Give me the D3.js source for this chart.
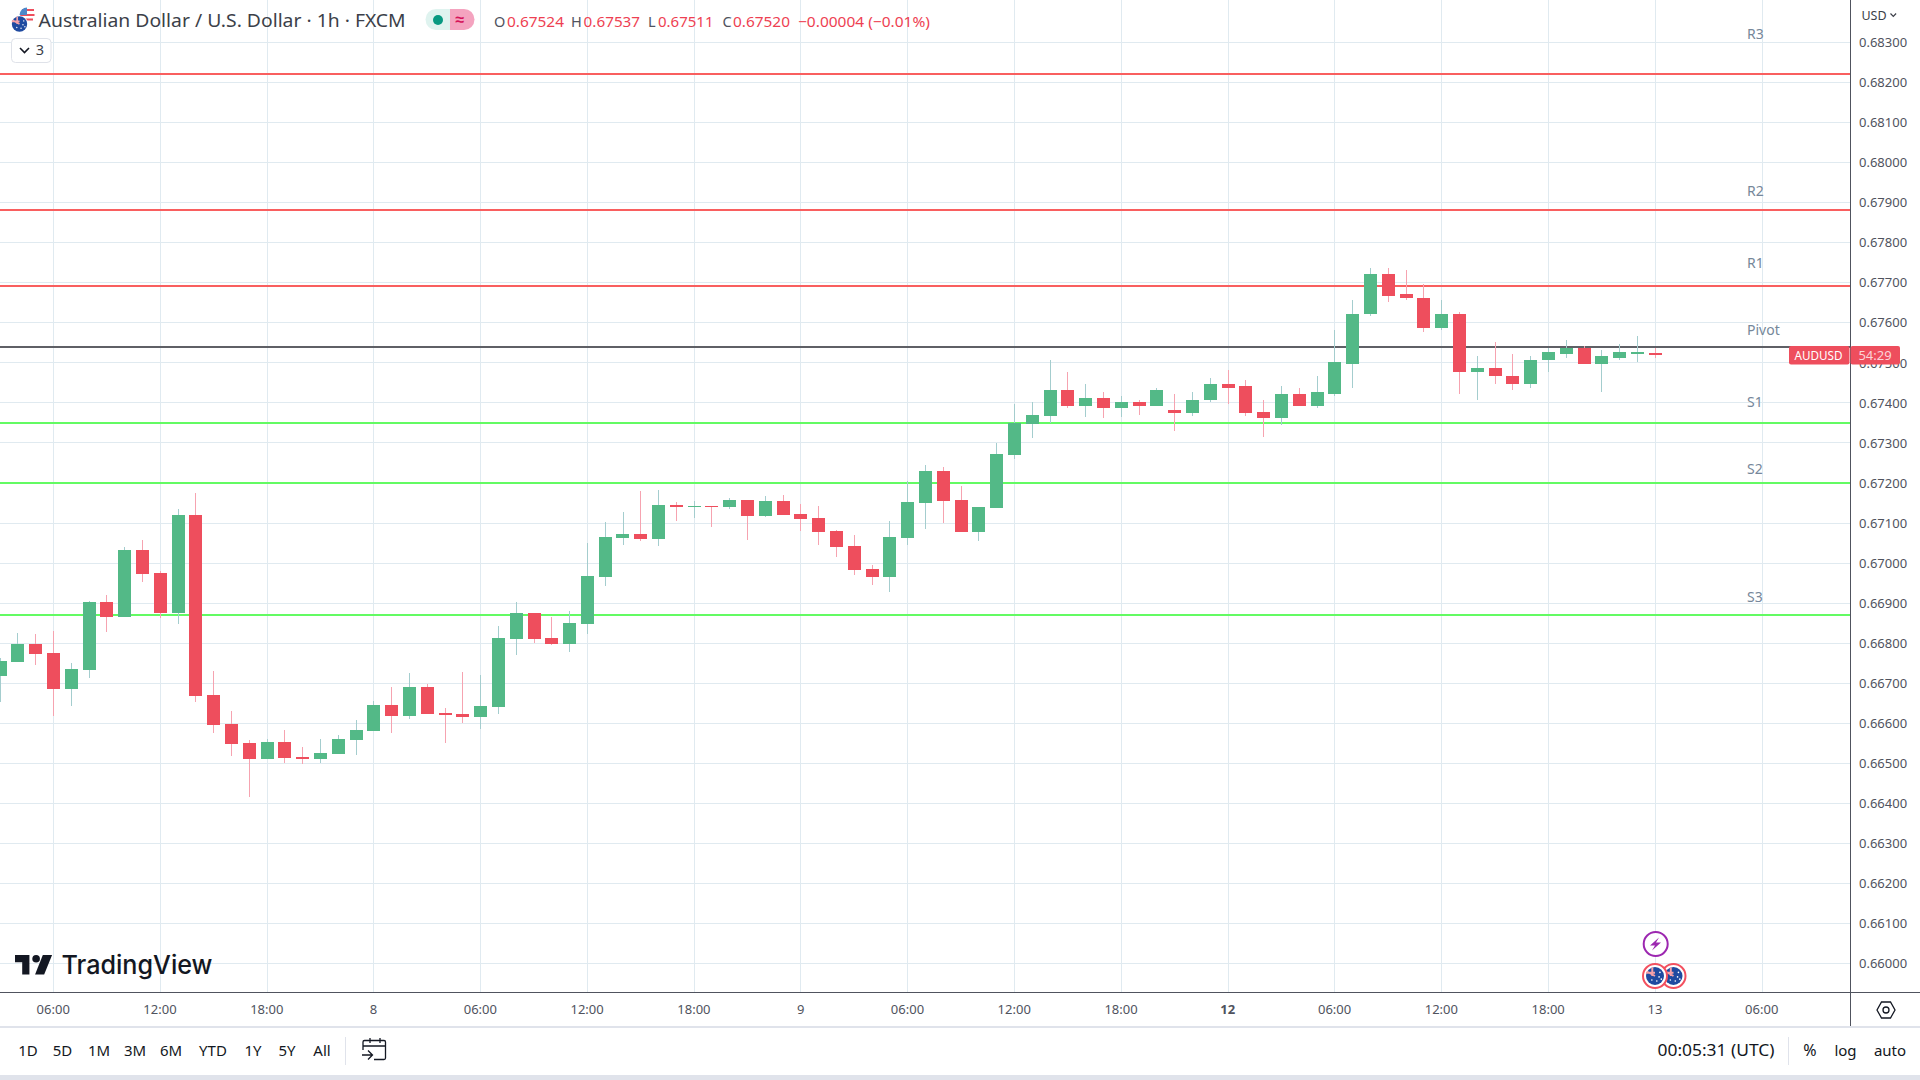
<!DOCTYPE html>
<html><head><meta charset="utf-8">
<script src="https://cdn.jsdelivr.net/npm/d3@7"></script>
<style>html,body{margin:0;padding:0;background:#fff;overflow:hidden}svg{display:block;font-family:"Noto Sans",sans-serif}</style>
</head><body><svg id="c" width="1920" height="1080"></svg>
<script>
const firstBar = -3;
const opens  = [.66718,.66753,.66798,.66776,.66686,.66733,.66903,.66866,.67033,.66976,.66876,.67121,.66671,.66598,.66551,.66511,.66553,.66516,.66511,.66523,.66558,.66581,.66646,.66618,.66691,.66626,.66623,.66616,.66641,.66811,.66876,.66813,.66798,.66848,.66966,.67063,.67073,.67061,.67146,.67141,.67143,.67141,.67158,.67118,.67156,.67123,.67113,.67081,.67043,.66986,.66966,.67063,.67151,.67231,.67158,.67078,.67138,.67271,.67348,.67368,.67431,.67393,.67413,.67386,.67401,.67393,.67381,.67376,.67406,.67446,.67441,.67378,.67363,.67421,.67391,.67423,.67498,.67621,.67721,.67671,.67663,.67586,.67621,.67478,.67488,.67468,.67448,.67506,.67523,.67538,.67498,.67513,.67523,.67524];
const highs  = [.66763,.66826,.66823,.66831,.66751,.66906,.66921,.67041,.67058,.66981,.67136,.67176,.66731,.66631,.66558,.66561,.66583,.66541,.66561,.66571,.66608,.66656,.66691,.66726,.66698,.66638,.66728,.66721,.66843,.66903,.66876,.66866,.66881,.67051,.67103,.67128,.67181,.67183,.67153,.67156,.67143,.67163,.67158,.67168,.67171,.67148,.67143,.67083,.67071,.66996,.67106,.67206,.67246,.67241,.67193,.67141,.67301,.67398,.67401,.67508,.67478,.67446,.67428,.67416,.67406,.67436,.67421,.67426,.67461,.67483,.67458,.67406,.67443,.67436,.67466,.67583,.67656,.67738,.67736,.67733,.67696,.67656,.67626,.67516,.67553,.67523,.67516,.67536,.67556,.67541,.67533,.67546,.67566,.67537];
const lows   = [.66654,.66753,.66746,.66618,.66643,.66713,.66828,.66866,.66953,.66863,.66848,.66653,.66576,.66518,.66416,.66511,.66500,.66498,.66500,.66523,.66521,.66581,.66576,.66611,.66623,.66551,.66601,.66585,.66623,.66771,.66801,.66796,.66778,.66823,.66943,.67046,.67056,.67043,.67106,.67113,.67091,.67136,.67058,.67116,.67121,.67081,.67046,.67016,.66971,.66946,.66928,.67046,.67086,.67101,.67078,.67056,.67138,.67261,.67313,.67351,.67388,.67366,.67363,.67366,.67371,.67393,.67331,.67368,.67403,.67396,.67368,.67316,.67346,.67391,.67386,.67416,.67436,.67618,.67653,.67656,.67576,.67583,.67421,.67408,.67448,.67431,.67436,.67476,.67513,.67498,.67426,.67506,.67501,.67511];
const closes = [.66756,.66798,.66773,.66686,.66736,.66903,.66866,.67033,.66973,.66876,.67121,.66668,.66596,.66548,.66511,.66553,.66513,.66511,.66526,.66561,.66583,.66646,.66618,.66691,.66623,.66621,.66616,.66643,.66813,.66876,.66811,.66798,.66851,.66968,.67066,.67073,.67061,.67146,.67141,.67143,.67141,.67158,.67118,.67156,.67121,.67111,.67078,.67041,.66983,.66966,.67066,.67153,.67231,.67156,.67078,.67141,.67273,.67351,.67371,.67431,.67393,.67413,.67386,.67401,.67393,.67431,.67376,.67408,.67446,.67438,.67376,.67363,.67421,.67391,.67426,.67501,.67623,.67721,.67668,.67661,.67586,.67621,.67478,.67488,.67466,.67448,.67508,.67526,.67538,.67498,.67516,.67526,.67526,.67520];

const priceTicks = d3.range(0,24).map(k=>+(0.660+k*0.001).toFixed(3));
const timeBars   = [0,6,12,18,24,30,36,42,48,54,60,66,72,78,84,90,96];
const timeLabels = ["06:00","12:00","18:00","8","06:00","12:00","18:00","9","06:00","12:00","18:00","12","06:00","12:00","18:00","13","06:00"];
const levelNames  = ["R3","R2","R1","Pivot","S1","S2","S3"];
const levelValues = [.68221,.67881,.67692,.67539,.67350,.67200,.66871];
const levelColors = ["#f95f5f","#f95f5f","#f95f5f","#5f6066","#63fb63","#63fb63","#63fb63"];
const levelLabelY = [.68322,.67928,.67750,.67583,.67403,.67235,.66914];
const rangeNames = ["1D","5D","1M","3M","6M","YTD","1Y","5Y","All"];
const rangeX     = [28,62.5,99,135,171,213,253,287,322];

const svg = d3.select("#c");
const plotW = 1850, plotH = 992;
const x = d3.scaleLinear().domain([0,96]).range([53.5,1762]);
const y = d3.scaleLinear().domain([0.660,0.683]).range([963.5,42.5]);

// grid
const grid = svg.append("g").attr("shape-rendering","crispEdges").attr("stroke","#e0eaf0");
grid.selectAll(".v").data(timeBars).join("line").attr("x1",d=>x(d)).attr("x2",d=>x(d)).attr("y1",0).attr("y2",plotH);
grid.selectAll(".h").data(priceTicks).join("line").attr("x1",0).attr("x2",plotW).attr("y1",d=>y(d)).attr("y2",d=>y(d));

// level lines and labels
svg.append("g").attr("shape-rendering","crispEdges").selectAll("line").data(levelValues).join("line")
  .attr("x1",0).attr("x2",plotW).attr("y1",d=>y(d)).attr("y2",d=>y(d))
  .attr("stroke",(d,i)=>levelColors[i]).attr("stroke-width",2);
svg.append("g").selectAll("text").data(levelNames).join("text")
  .attr("x",1747).attr("y",(d,i)=>y(levelLabelY[i])).attr("dy","0.35em")
  .attr("font-size",14).attr("fill","#76879a").text(d=>d);

// candles
const bars = opens.map((o,i)=>({i:i+firstBar,o,h:highs[i],l:lows[i],c:closes[i]}));
svg.append("defs").append("clipPath").attr("id","pc").append("rect").attr("width",plotW).attr("height",plotH);
const cg = svg.append("g").attr("clip-path","url(#pc)").attr("shape-rendering","crispEdges");
const up = d=>d.c>=d.o;
cg.selectAll(".w").data(bars).join("line")
  .attr("x1",d=>x(d.i)).attr("x2",d=>x(d.i)).attr("y1",d=>y(d.h)).attr("y2",d=>y(d.l))
  .attr("stroke",d=>up(d)?"#a4cdce":"#f6a3b0");
cg.selectAll(".b").data(bars).join("rect")
  .attr("x",d=>Math.round(x(d.i)-6.5)).attr("width",13)
  .attr("y",d=>y(Math.max(d.o,d.c)))
  .attr("height",d=>Math.max(1,y(Math.min(d.o,d.c))-y(Math.max(d.o,d.c))))
  .attr("fill",d=>up(d)?"#53b987":"#ee4e5d");

// axes
const ya = d3.axisRight(y).tickValues(priceTicks).tickFormat(d3.format(".5f")).tickSize(0).tickPadding(9);
const yg = svg.append("g").attr("transform",`translate(${plotW},0)`).call(ya);
yg.select(".domain").remove();
yg.selectAll("text").attr("font-size",13).attr("font-family",'"Noto Sans",sans-serif').attr("fill","#50535e");
const xa = d3.axisBottom(x).tickValues(timeBars).tickFormat((d,i)=>timeLabels[i]).tickSize(0).tickPadding(12.5);
const xg = svg.append("g").attr("transform",`translate(-0.8,${plotH})`).call(xa);
xg.select(".domain").remove();
xg.selectAll("text").attr("font-size",13).attr("font-family",'"Noto Sans",sans-serif').attr("fill","#50535e")
  .attr("font-weight",(d,i)=>timeLabels[i]==="12"?"700":"400");
const frame = svg.append("g").attr("shape-rendering","crispEdges");
frame.append("line").attr("x1",0).attr("x2",1920).attr("y1",992.5).attr("y2",992.5).attr("stroke","#50535e");
frame.append("line").attr("x1",1850.5).attr("x2",1850.5).attr("y1",0).attr("y2",1026).attr("stroke","#50535e");
frame.append("rect").attr("x",0).attr("y",1026).attr("width",1920).attr("height",54).attr("fill","#fff");
frame.append("rect").attr("x",0).attr("y",1026).attr("width",1920).attr("height",1.5).attr("fill","#e0e3eb");
frame.append("rect").attr("x",0).attr("y",1075).attr("width",1920).attr("height",5).attr("fill","#e0e3eb");
frame.append("rect").attr("x",345).attr("y",1037).attr("width",1).attr("height",28).attr("fill","#e0e3eb");
frame.append("rect").attr("x",1788).attr("y",1037).attr("width",1).attr("height",28).attr("fill","#e0e3eb");

// price tag
svg.append("rect").attr("x",1789).attr("y",346).attr("width",60.5).attr("height",18.5).attr("rx",2).attr("fill","#ee4e5d");
svg.append("rect").attr("x",1850.5).attr("y",346).attr("width",49.5).attr("height",18.5).attr("rx",2).attr("fill","#ee4e5d");
const T=(tx,ty,s,size,fill,anchor,extra)=>{const t=svg.append("text").attr("x",tx).attr("y",ty).attr("dy","0.35em").attr("font-size",size).attr("fill",fill).attr("text-anchor",anchor||"start").text(s);
  if(extra)for(const k in extra)t.attr(k,extra[k]);return t;};
T(1818.5,355.5,"AUDUSD",13,"#ffffff","middle",{textLength:48,lengthAdjust:"spacingAndGlyphs"});
T(1875,355.5,"54:29",13,"#fbd4d8","middle");

// header
T(38.6,21,"Australian Dollar / U.S. Dollar · 1h · FXCM",17.5,"#3c3f49","start",{textLength:367,lengthAdjust:"spacingAndGlyphs"});
const ohlc=[["O","0.67524",494,507,57],["H","0.67537",571,583.6,56.5],["L","0.67511",648,658,55.5],["C","0.67520",722.6,733,57]];
ohlc.forEach(([k,v,px,vx,w])=>{T(px,22,k,14.5,"#50535e");T(vx,22,v,14.5,"#ee3f52","start",{textLength:w,lengthAdjust:"spacingAndGlyphs"});});
T(798,22,"−0.00004 (−0.01%)",14.5,"#ee3f52","start",{textLength:132,lengthAdjust:"spacingAndGlyphs"});
// status pill
svg.append("path").attr("d","M450 9H436a10.5 10.5 0 0 0 0 21H450Z").attr("fill","#dff3ef");
svg.append("path").attr("d","M450 9H464a10.5 10.5 0 0 1 0 21H450Z").attr("fill","#f4a3bf");
svg.append("circle").attr("cx",438).attr("cy",20).attr("r",5).attr("fill","#089981");
T(460,19.5,"≈",16,"#d5135a","middle",{"font-weight":700});
// indicator count box
svg.append("rect").attr("x",11.5).attr("y",38.5).attr("width",39.5).attr("height",24).attr("rx",4).attr("fill","#fff").attr("stroke","#dfe2e9");
svg.append("path").attr("d","M20 48l4.5 4.5L29 48").attr("fill","none").attr("stroke","#131722").attr("stroke-width",1.6);
T(40,50,"3",14.5,"#3c3f49","middle");
// pair flags
function flagAU(cx,cy,r,g){
  g.append("circle").attr("cx",cx).attr("cy",cy).attr("r",r).attr("fill","#1f4aa0");
  g.append("path").attr("d",`M${cx-r*.9} ${cy-r*.5}L${cx} ${cy}M${cx-r*.3} ${cy-r*.95}L${cx-r*.3} ${cy}M${cx-r} ${cy-r*.35}L${cx} ${cy-r*.35}`).attr("stroke","#f3a0a8").attr("stroke-width",r*.22);
  [[.45,.1],[.55,-.4],[.2,.55],[-.35,.45],[.7,.35]].forEach(p=>g.append("circle").attr("cx",cx+p[0]*r).attr("cy",cy+p[1]*r).attr("r",r*.09).attr("fill","#fff"));
}
const us=svg.append("g");
us.append("circle").attr("cx",27).attr("cy",15).attr("r",7.5).attr("fill","#fff");
us.append("path").attr("d","M22 10H34M20 15H34.5M21 19.5H33").attr("stroke","#ee4e5d").attr("stroke-width",2.2);
us.append("path").attr("d","M27 7.5a7.5 7.5 0 0 0-7.5 7.5H27Z").attr("fill","#4d87c9");
us.append("circle").attr("cx",19.5).attr("cy",24).attr("r",8.6).attr("fill","#fff");
flagAU(19.5,24,7.7,us);
// watermark logo
const logo=svg.append("g").attr("transform","translate(15,955) scale(1.03)").attr("fill","#131722");
logo.append("path").attr("d","M0 0H14V19H7V7H0Z");
logo.append("circle").attr("cx",20.5).attr("cy",3.7).attr("r",3.7);
logo.append("path").attr("d","M27 0H36L28.3 19H19.5Z");
T(61.5,965,"TradingView",26,"#131722","start",{textLength:151,lengthAdjust:"spacingAndGlyphs","font-weight":500,"font-family":"Inter, sans-serif"});

// range bar
svg.append("g").selectAll("text").data(rangeNames).join("text").attr("x",(d,i)=>rangeX[i]).attr("y",1050.5).attr("dy","0.35em")
  .attr("text-anchor","middle").attr("font-size",15).attr("fill","#131722").text(d=>d);
const cal=svg.append("g").attr("fill","none").attr("stroke","#131722").attr("stroke-width",1.3);
cal.append("path").attr("d","M370 1038v5M380 1038v5M363 1050v-8a1.5 1.5 0 0 1 1.5-1.5H384a1.5 1.5 0 0 1 1.5 1.5v16a1.5 1.5 0 0 1-1.5 1.5H374M363 1046H385M362 1055H372M368 1050.5l4.5 4.5-4.5 4.5");
T(1716,1050.5,"00:05:31 (UTC)",15.5,"#131722","middle",{textLength:117,lengthAdjust:"spacingAndGlyphs"});
T(1810,1050.5,"%",16,"#131722","middle");
T(1845.5,1050.5,"log",15,"#131722","middle");
T(1890,1050.5,"auto",15,"#131722","middle");
// currency & settings
T(1874,16,"USD",12.5,"#3c3f49","middle");
svg.append("path").attr("d","M1890.5 13.5l2.8 2.8 2.8-2.8").attr("fill","none").attr("stroke","#3c3f49").attr("stroke-width",1.2);
svg.append("path").attr("d","M1877 1010l4.5-8h9l4.5 8-4.5 8h-9Z").attr("fill","none").attr("stroke","#131722").attr("stroke-width",1.3);
svg.append("circle").attr("cx",1886).attr("cy",1010).attr("r",3).attr("fill","none").attr("stroke","#131722").attr("stroke-width",1.3);
// events
svg.append("circle").attr("cx",1655.7).attr("cy",944).attr("r",12).attr("fill","#fff").attr("stroke","#9c27b0").attr("stroke-width",2);
svg.append("path").attr("d","M1659 937.5L1650 945.5H1655L1652 950.5L1661 942.5H1656Z").attr("fill","#9c27b0");
[1673.5,1655].forEach(cx=>{
  const g=svg.append("g");
  g.append("circle").attr("cx",cx).attr("cy",976).attr("r",12).attr("fill","#fff").attr("stroke","#f3505f").attr("stroke-width",2);
  flagAU(cx,976,9,g);
});
</script></body></html>
